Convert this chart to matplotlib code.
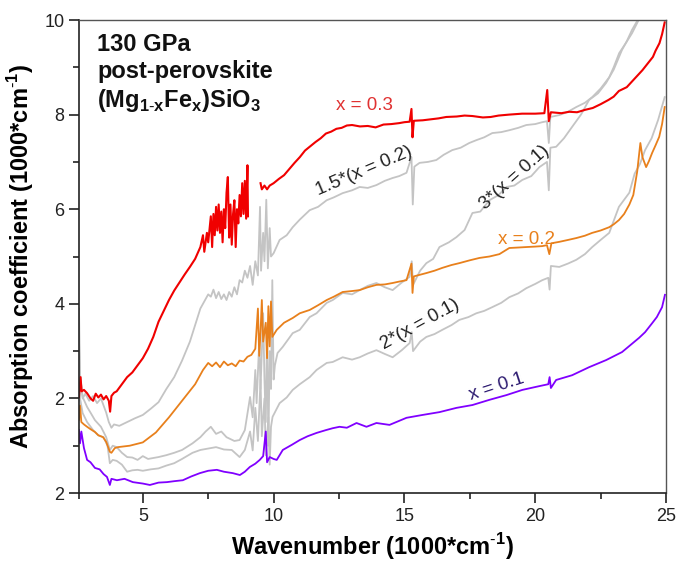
import matplotlib
matplotlib.use("Agg")
import numpy as np
import matplotlib.pyplot as plt
from matplotlib.ticker import MultipleLocator, FixedLocator, FixedFormatter

plt.rcParams["font.family"] = ["Liberation Sans", "DejaVu Sans"]
plt.rcParams["mathtext.fontset"] = "custom"
plt.rcParams["mathtext.rm"] = "Liberation Sans"
plt.rcParams["mathtext.bf"] = "Liberation Sans:bold"

# ---- data (wavenumber in 1000 cm^-1, absorption in 1000 cm^-1) ----
red_w = [2.56, 2.62, 2.66, 2.75, 2.87, 3.0, 3.1, 3.2, 3.3, 3.4, 3.5, 3.6, 3.7, 3.75, 3.8, 3.9,
         4.0, 4.2, 4.4, 4.6, 4.8, 5.0, 5.2, 5.4, 5.6, 5.8, 6.0, 6.2, 6.4, 6.6, 6.8, 7.0, 7.2,
         7.3, 7.35, 7.45, 7.5, 7.6, 7.65, 7.7, 7.75, 7.8, 7.85, 7.9, 7.95, 8.0, 8.05, 8.1, 8.15,
         8.2, 8.25, 8.3, 8.35, 8.4, 8.45, 8.5, 8.55, 8.6, 8.65, 8.7, 8.75, 8.8, 8.85, 8.9, 8.95,
         9.0, 9.02, 9.2,
         9.5, 9.55, 9.65, 9.75, 9.85, 10.0, 10.2, 10.4, 10.6, 10.8, 11.0, 11.2, 11.4, 11.6, 11.8,
         12.0, 12.2, 12.4, 12.6, 12.8, 13.0, 13.3, 13.6, 13.9, 14.2, 14.5, 14.8, 15.0, 15.2,
         15.27, 15.31, 15.36, 15.7, 16.0, 16.3, 16.6, 17.0, 17.3, 17.6, 18.0, 18.3, 18.6, 19.0,
         19.5, 20.0, 20.35, 20.46, 20.52, 20.6, 21.0, 21.3, 21.6, 21.9, 22.2, 22.5, 22.8, 23.0,
         23.2, 23.5, 23.7, 23.9, 24.1, 24.3, 24.5, 24.6, 24.75, 24.85, 24.95]
red_v = [2.03, 2.45, 2.15, 2.18, 2.11, 2.0, 1.95, 2.1, 2.02, 2.08, 1.98, 2.05, 1.95, 1.72, 2.05, 2.12,
         2.15, 2.3, 2.45, 2.55, 2.7, 2.85, 3.05, 3.3, 3.62, 3.85, 4.08, 4.28, 4.45, 4.62, 4.78, 4.95, 5.2,
         5.45, 5.1, 5.5, 5.3, 5.85, 5.2, 5.9, 5.45, 6.05, 5.55, 6.1, 5.5, 5.95, 5.3, 6.0, 5.6,
         6.35, 6.68, 5.4, 6.1, 5.25, 5.9, 6.19, 5.2, 6.0, 5.7, 6.3, 5.85, 6.55, 5.9, 6.6, 5.8,
         6.93, 5.85, np.nan,
         6.55, 6.42, 6.5, 6.42, 6.5, 6.55, 6.64, 6.72, 6.85, 6.98, 7.1, 7.24, 7.33, 7.42, 7.5,
         7.6, 7.64, 7.7, 7.72, 7.77, 7.78, 7.75, 7.76, 7.73, 7.79, 7.8, 7.82, 7.84, 7.85,
         8.12, 7.52, 7.87, 7.88, 7.9, 7.92, 7.95, 7.96, 7.98, 7.97, 7.94, 7.95, 7.98, 8.0,
         8.02, 8.02, 8.03, 8.52, 7.86, 8.05, 8.03, 8.06, 8.05, 8.1, 8.14, 8.22, 8.31, 8.38,
         8.5, 8.58, 8.7, 8.82, 8.94, 9.08, 9.22, 9.35, 9.51, 9.7, 9.95]

orange_w = [2.56, 2.6, 2.65, 2.75, 2.87, 3.0, 3.17, 3.3, 3.48, 3.6, 3.74, 3.8, 3.93, 4.05, 4.5,
            5.0, 5.5, 6.0, 6.5, 7.0, 7.3, 7.5, 7.65, 7.8, 7.95, 8.1, 8.25, 8.4, 8.55, 8.7, 8.85,
            9.0, 9.15, 9.3, 9.4, 9.45, 9.5, 9.55, 9.6, 9.7, 9.75, 9.8, 9.85, 9.9, 9.95, 10.12,
            10.4, 10.73, 11.0, 11.38, 11.7, 12.03, 12.3, 12.64, 13.0, 13.29, 13.6, 13.93, 14.25,
            14.55, 14.8, 15.08, 15.27, 15.31, 15.36, 15.84, 16.15, 16.45, 16.8, 17.1, 17.5, 17.87,
            18.25, 18.63, 19.01, 19.35, 19.66, 20.0, 20.27, 20.45, 20.54, 20.62, 20.92, 21.25,
            21.57, 21.9, 22.18, 22.5, 22.83, 23.0, 23.2, 23.4, 23.6, 23.75, 23.9, 24.02, 24.1,
            24.24, 24.35, 24.47, 24.6, 24.74, 24.85, 24.95]
orange_v = [1.55, 1.85, 1.5, 1.45, 1.40, 1.35, 1.29, 1.22, 1.18, 1.08, 0.87, 0.85, 0.95, 0.97, 1.0,
            1.07, 1.28, 1.6, 1.95, 2.3, 2.6, 2.75, 2.68, 2.76, 2.66, 2.78, 2.7, 2.74, 2.68, 2.8, 2.78,
            2.88, 2.92, 3.05, 3.9, 2.9, 3.4, 4.08, 3.2, 3.6, 2.85, 3.95, 3.1, 4.05, 3.3, 3.45,
            3.6, 3.70, 3.8, 3.87, 3.97, 4.08, 4.15, 4.25, 4.27, 4.29, 4.35, 4.40, 4.41,
            4.44, 4.47, 4.50, 4.85, 4.23, 4.58, 4.65, 4.7, 4.76, 4.82, 4.86, 4.92, 4.97,
            5.0, 5.05, 5.18, 5.19, 5.20, 5.21, 5.22, 5.24, 5.05, 5.28, 5.31, 5.35,
            5.39, 5.44, 5.50, 5.55, 5.62, 5.68, 5.77, 5.9, 6.1, 6.3, 6.8, 7.4, 7.1,
            6.89, 7.02, 7.19, 7.35, 7.53, 7.8, 8.16]

purple_w = [2.56, 2.6, 2.65, 2.75, 2.87, 3.0, 3.17, 3.35, 3.5, 3.63, 3.74, 3.8, 4.01, 4.3, 4.62,
            5.0, 5.27, 5.6, 5.92, 6.2, 6.53, 6.85, 7.18, 7.5, 7.83, 8.1, 8.44, 8.71, 8.9, 9.09,
            9.3, 9.47, 9.6, 9.7, 9.75, 9.85, 10.0, 10.12, 10.35, 10.7, 11.0, 11.3, 11.64, 12.0,
            12.26, 12.52, 12.8, 13.17, 13.55, 13.93, 14.43, 15.08, 15.69, 16.34, 16.99, 17.6,
            18.25, 18.9, 19.51, 20.16, 20.5, 20.55, 20.6, 20.8, 21.41, 22.06, 22.71, 23.32,
            23.97, 24.2, 24.47, 24.65, 24.85, 24.96]
purple_v = [1.33, 1.05, 1.3, 0.95, 0.70, 0.65, 0.53, 0.5, 0.4, 0.34, 0.17, 0.3, 0.27, 0.3, 0.23,
            0.2, 0.17, 0.22, 0.23, 0.25, 0.27, 0.35, 0.42, 0.47, 0.49, 0.45, 0.42, 0.38, 0.45, 0.55,
            0.62, 0.70, 0.78, 1.3, 0.65, 0.76, 0.72, 0.70, 0.91, 1.02, 1.12, 1.2, 1.27, 1.33,
            1.37, 1.40, 1.38, 1.48, 1.40, 1.48, 1.44, 1.59, 1.65, 1.71, 1.80, 1.86,
            1.97, 2.07, 2.18, 2.26, 2.3, 2.45, 2.22, 2.39, 2.49, 2.66, 2.81, 2.98,
            3.28, 3.4, 3.59, 3.72, 3.93, 4.19]

gray15_w = [2.56, 2.6, 2.7, 2.8, 2.95, 3.1, 3.25, 3.4, 3.5, 3.6, 3.7, 3.8, 3.9, 4.1, 4.4, 4.7,
            5.0, 5.3, 5.6, 5.9, 6.2, 6.5, 6.8, 7.0, 7.2, 7.35, 7.5, 7.6, 7.7, 7.8, 7.9, 8.0, 8.1,
            8.2, 8.3, 8.4, 8.5, 8.6, 8.7, 8.8, 8.9, 9.0, 9.1, 9.2, 9.3, 9.4, 9.48, 9.52, 9.6, 9.65,
            9.72, 9.78, 9.85, 9.9, 10.0, 10.23, 10.5, 10.73, 11.0, 11.38, 11.7, 12.03, 12.3, 12.64,
            13.0, 13.29, 13.6, 13.93, 14.25, 14.55, 14.8, 15.08, 15.27, 15.32, 15.38, 15.58, 15.9,
            16.22, 16.5, 16.83, 17.15, 17.48, 17.75, 18.05, 18.36, 18.7, 19.01, 19.35, 19.66,
            20.0, 20.27, 20.45, 20.52, 20.58, 20.92, 21.25, 21.57, 21.9, 22.18, 22.5, 22.83,
            23.0, 23.21, 23.45, 23.7, 24.0]
gray15_v = [3.9, 2.5, 2.0, 2.1, 1.95, 2.05, 1.9, 2.0, 1.85, 1.7, 1.5, 1.38, 1.45, 1.42, 1.5, 1.58,
            1.65, 1.78, 1.92, 2.2, 2.45, 2.8, 3.2, 3.55, 3.9, 4.05, 4.2, 4.15, 4.3, 4.12, 4.25, 4.1, 4.2,
            4.08, 4.25, 4.15, 4.35, 4.2, 4.5, 4.45, 4.7, 4.55, 4.8, 4.4, 4.9, 4.6, 6.05, 4.7, 5.5, 4.9,
            6.2, 4.75, 5.6, 5.0, 5.07, 5.35, 5.45, 5.62, 5.78, 5.98, 6.05, 6.19, 6.25, 6.34,
            6.4, 6.47, 6.45, 6.51, 6.6, 6.66, 6.7, 6.77, 7.1, 6.1, 6.9, 6.98, 7.0,
            7.04, 7.15, 7.25, 7.3, 7.40, 7.46, 7.52, 7.61, 7.63, 7.67, 7.72, 7.78,
            7.8, 7.84, 7.86, 7.4, 7.95, 7.99, 8.06, 8.16, 8.25, 8.37, 8.55, 8.79,
            9.0, 9.30, 9.5, 9.72, 10.05]

gray3_w = [2.56, 2.6, 2.7, 2.87, 3.0, 3.17, 3.4, 3.6, 3.74, 3.85, 4.0, 4.2, 4.4, 4.6, 4.8, 5.0,
           5.2, 5.6, 5.9, 6.2, 6.5, 6.9, 7.2, 7.4, 7.6, 7.8, 8.0, 8.2, 8.5, 8.7, 8.9, 9.1, 9.2,
           9.3, 9.35, 9.45, 9.5, 9.6, 9.65, 9.7, 9.75, 9.8, 9.85, 9.9, 9.95, 10.0, 10.05, 10.15,
           10.35, 10.73, 11.0, 11.38, 11.64, 12.03, 12.26, 12.64, 13.0, 13.29, 13.6, 13.93, 14.25,
           14.55, 14.9, 15.2, 15.28, 15.33, 15.6, 15.84, 16.1, 16.34, 16.7, 16.99, 17.3, 17.6,
           17.9, 18.25, 18.6, 18.9, 19.2, 19.51, 19.85, 20.16, 20.45, 20.52, 20.58, 20.8, 21.1,
           21.41, 21.75, 22.06, 22.4, 22.71, 23.0, 23.32, 23.5, 23.7, 23.97]
gray3_v = [3.2, 2.5, 2.03, 1.82, 1.7, 1.54, 1.40, 1.18, 0.91, 1.0, 0.97, 0.85, 0.76, 0.75, 0.7, 0.78,
           0.72, 0.76, 0.8, 0.85, 0.91, 1.05, 1.18, 1.3, 1.40, 1.25, 1.30, 1.18, 1.1, 1.12, 1.33, 2.03, 1.6,
           2.6, 1.9, 3.2, 2.2, 3.8, 2.4, 1.5, 3.5, 1.0, 3.0, 2.2, 4.5, 2.4, 2.7, 2.96,
           3.09, 3.38, 3.45, 3.72, 3.80, 4.02, 4.08, 4.23, 4.2, 4.29, 4.38, 4.44, 4.35,
           4.29, 4.45, 4.57, 4.9, 4.4, 4.7, 4.86, 4.95, 5.20, 5.3, 5.41, 5.56, 5.92,
           5.95, 6.19, 6.3, 6.47, 6.5, 6.62, 6.7, 6.89, 7.0, 6.4, 7.3, 7.32, 7.5,
           7.74, 8.0, 8.31, 8.45, 8.67, 8.95, 9.37, 9.55, 9.79, 10.05]

gray2_w = [2.56, 2.6, 2.7, 2.87, 3.1, 3.3, 3.5, 3.65, 3.74, 3.85, 4.0, 4.2, 4.4, 4.6, 4.8, 5.0,
           5.3, 5.6, 5.9, 6.2, 6.5, 6.9, 7.2, 7.5, 7.8, 8.1, 8.4, 8.7, 8.9, 9.1, 9.2, 9.3, 9.4,
           9.5, 9.55, 9.65, 9.7, 9.8, 9.85, 9.9, 9.96, 10.23, 10.5, 10.73, 11.0, 11.38, 11.64,
           12.03, 12.26, 12.64, 13.0, 13.29, 13.6, 13.93, 14.25, 14.55, 14.9, 15.2, 15.28, 15.33,
           15.6, 15.84, 16.15, 16.45, 16.8, 17.1, 17.45, 17.75, 18.05, 18.36, 18.7, 19.01, 19.35,
           19.66, 20.0, 20.27, 20.5, 20.55, 20.6, 20.92, 21.25, 21.57, 21.9, 22.18, 22.5, 22.83,
           23.2, 23.6, 23.8, 24.0, 24.2, 24.45, 24.7, 24.95]
gray2_v = [2.6, 2.0, 1.69, 1.5, 1.33, 1.22, 1.18, 1.0, 0.63, 0.7, 0.68, 0.6, 0.45, 0.48, 0.49, 0.47,
           0.5, 0.52, 0.58, 0.63, 0.72, 0.85, 0.91, 0.94, 0.97, 0.92, 0.91, 0.76, 0.91, 1.3, 0.9, 1.8, 1.1,
           2.4, 1.2, 2.0, 0.8, 1.6, 0.6, 1.4, 1.61, 1.90, 2.02, 2.18, 2.3, 2.45, 2.6,
           2.75, 2.77, 2.87, 2.82, 2.87, 2.95, 3.02, 2.94, 2.87, 3.02, 3.17, 3.4, 3.0,
           3.2, 3.30, 3.36, 3.45, 3.55, 3.66, 3.72, 3.80, 3.85, 3.93, 4.02, 4.14, 4.22,
           4.33, 4.42, 4.50, 4.55, 4.3, 4.8, 4.78, 4.85, 4.93, 5.05, 5.20, 5.35, 5.50,
           6.05, 6.35, 6.75, 6.95, 7.25, 7.5, 7.89, 8.37]

fig, ax = plt.subplots(figsize=(6.78, 5.67), dpi=100)
fig.subplots_adjust(left=0.1165, right=0.9823, bottom=0.1305, top=0.9647)

gray = "#c4c4c4"
for w, v in [(gray15_w, gray15_v), (gray3_w, gray3_v), (gray2_w, gray2_v)]:
    ax.plot(w, v, color=gray, lw=1.3)
ax.plot(orange_w, orange_v, color="#e8801c", lw=1.3)
ax.plot(purple_w, purple_v, color="#8000ff", lw=1.3)
ax.plot(red_w, red_v, color="#f00000", lw=1.5)

ax.set_xlim(2.56, 25)
ax.set_ylim(0, 10)

ax.xaxis.set_major_locator(FixedLocator([5, 10, 15, 20, 25]))
ax.xaxis.set_minor_locator(FixedLocator([2.56, 7.5, 12.5, 17.5, 22.5]))
ax.yaxis.set_major_locator(FixedLocator([0, 2, 4, 6, 8, 10]))
ax.yaxis.set_major_formatter(FixedFormatter(["2", "2", "4", "6", "8", "10"]))
ax.yaxis.set_minor_locator(MultipleLocator(1))
ax.tick_params(which="major", direction="out", length=7, width=1.2, labelsize=13,
               colors="#222222", top=False, right=False)
ax.tick_params(which="minor", direction="out", length=4, width=1.2, colors="#222222",
               top=False, right=False)
for side in ["left", "bottom"]:
    ax.spines[side].set_color("#222222")
    ax.spines[side].set_linewidth(1.2)
for side in ["top", "right"]:
    ax.spines[side].set_color("#555555")
    ax.spines[side].set_linewidth(1.0)

sup = r"$^{\mathbf{\text{-}1}}$"
ax.set_xlabel("Wavenumber (1000*cm" + sup + ")", fontsize=17, fontweight="bold", labelpad=5)
ax.set_ylabel("Absorption coefficient (1000*cm" + sup + ")", fontsize=17, fontweight="bold",
              labelpad=6)

ax.text(3.25, 9.72, "130 GPa\npost-perovskite\n" +
        r"(Mg$_{\mathbf{1\text{-}x}}$Fe$_{\mathbf{x}}$)SiO$_{\mathbf{3}}$",
        fontsize=17, fontweight="bold", va="top", ha="left", linespacing=1.2, color="#111111")

ax.text(13.48, 8.2, "x = 0.3", color="#e03232", fontsize=13.5, ha="center", va="center")
ax.text(13.44, 6.81, "1.5*(x = 0.2)", color="#222222", fontsize=13.5, ha="center", va="center", rotation=23)
ax.text(19.2, 6.68, "3*(x = 0.1)", color="#222222", fontsize=13.5, ha="center", va="center", rotation=42)
ax.text(19.66, 5.35, "x = 0.2", color="#e8801c", fontsize=13.5, ha="center", va="center")
ax.text(15.61, 3.57, "2*(x = 0.1)", color="#222222", fontsize=13.5, ha="center", va="center", rotation=29)
ax.text(18.52, 2.24, "x = 0.1", color="#2c1a70", fontsize=13.5, ha="center", va="center", rotation=18)

fig.savefig("out.png", dpi=100)
